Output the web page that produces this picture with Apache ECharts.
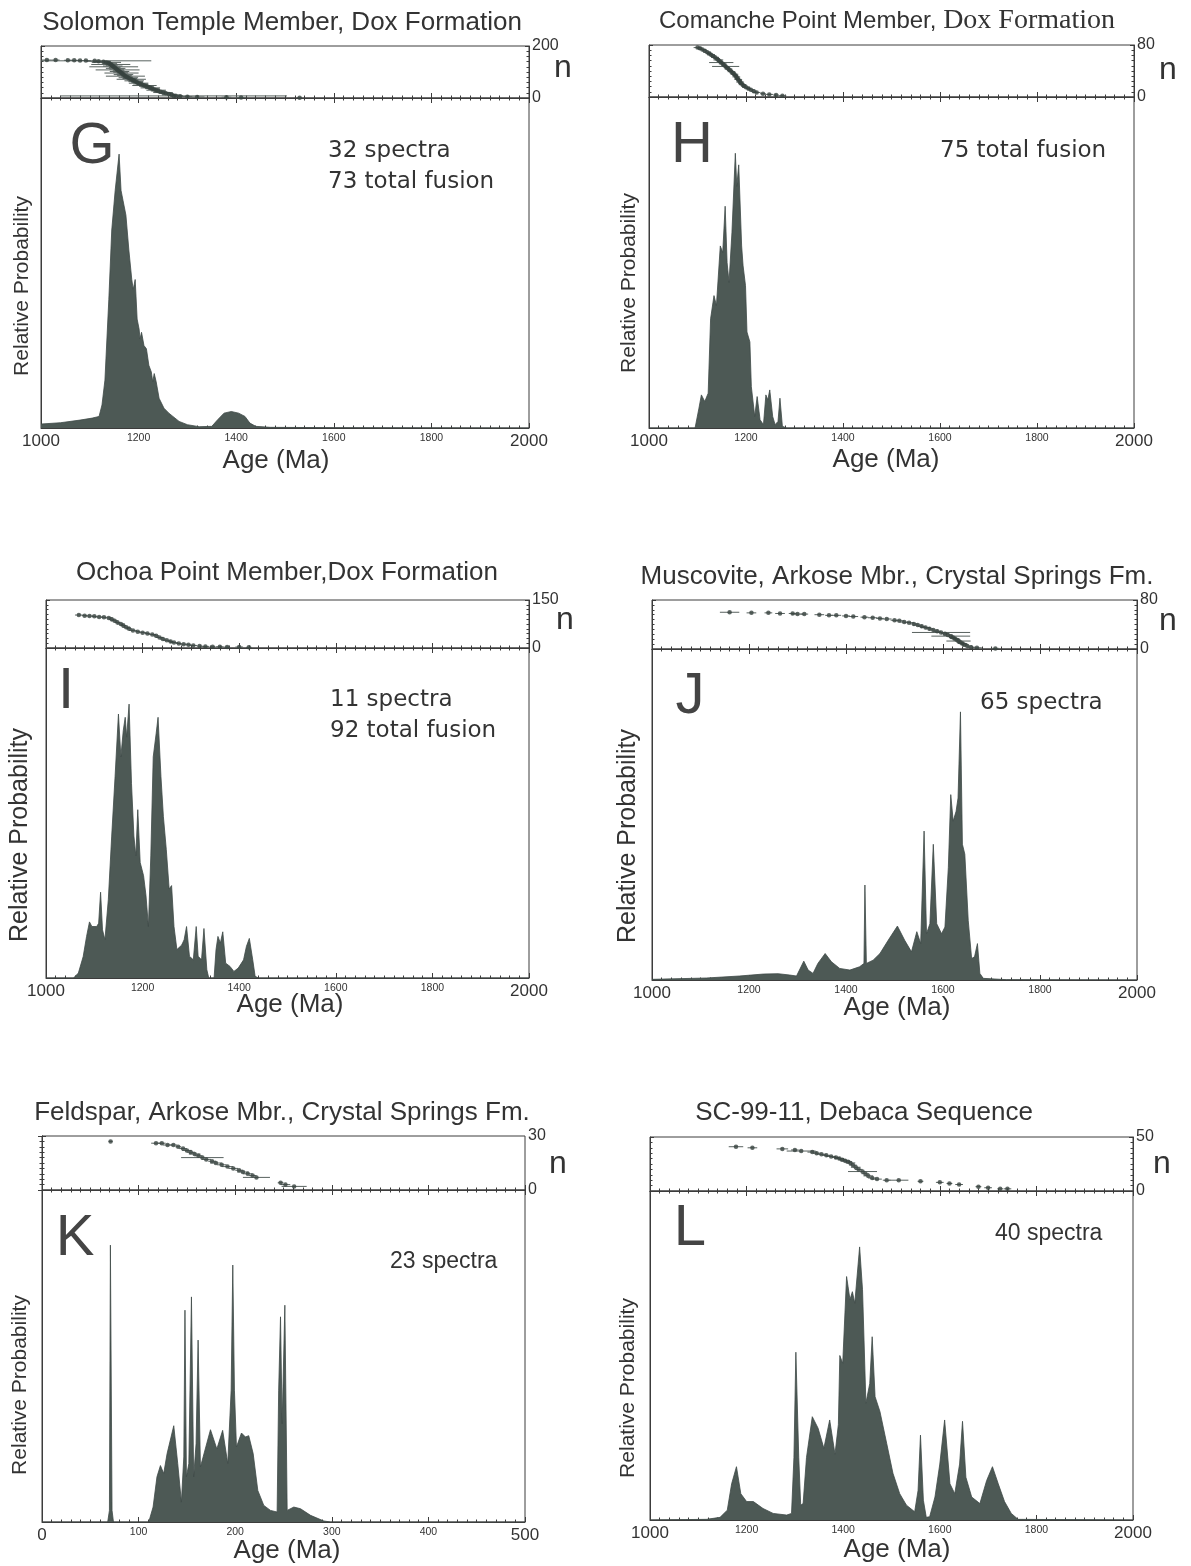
<!DOCTYPE html>
<html><head><meta charset="utf-8">
<script src="https://cdn.jsdelivr.net/npm/echarts/dist/echarts.min.js"></script>
<style>html,body{margin:0;padding:0;background:#fff}#c{width:1191px;height:1566px}</style>
</head><body><div id="c"></div><script>
// ---------------- DATA ----------------
const panelTitles = [
  'Solomon Temple Member, Dox Formation',
  'Comanche Point Member, |Dox Formation',
  'Ochoa Point Member,Dox Formation',
  'Muscovite, Arkose Mbr., Crystal Springs Fm.',
  'Feldspar, Arkose Mbr., Crystal Springs Fm.',
  'SC-99-11, Debaca Sequence'
];
const panelLetters = ['G', 'H', 'I', 'J', 'K', 'L'];
const panelNotes = [
  ['32 spectra', '73 total fusion'],
  ['75 total fusion'],
  ['11 spectra', '92 total fusion'],
  ['65 spectra'],
  ['23 spectra'],
  ['40 spectra']
];
const ageMin = [1000, 1000, 1000, 1000, 0, 1000];
const ageMax = [2000, 2000, 2000, 2000, 500, 2000];
const ageLabelStep = [200, 200, 200, 200, 100, 200];
const nMax = [200, 80, 150, 80, 30, 50];

// relative probability curves: [age (Ma), relative probability (% of panel height)]
const probG = [[1000,1.2],[1040,1.6],[1080,2.4],[1105,3],[1119,3.5],[1125,7],[1131,14.5],[1139,39],[1145,60],[1152,72],[1160,83],[1164,72],[1168,69],[1174,64.5],[1180,54],[1186,45],[1189,42],[1193,45],[1197,33],[1201,30],[1203,27],[1206,29],[1211,25],[1216,24],[1221,19],[1226,17],[1229,14],[1232,16.5],[1236,14],[1242,9],[1252,6],[1262,4.5],[1283,2],[1300,1],[1324,0.4],[1350,0.5],[1362,2.5],[1375,4.5],[1390,5],[1405,4.5],[1418,3.5],[1428,1.5],[1440,0.5],[1470,0.2],[1600,0.1],[2000,0]];
const probH = [[1000,0],[1095,0],[1098,0.5],[1103,6],[1108,10],[1115,8],[1122,10.5],[1127,33],[1134,40],[1139,37],[1147,55],[1152,53],[1157,67],[1161,50],[1165,44],[1171,59],[1178,83],[1181,73],[1185,79.5],[1191,55],[1194,49],[1199,43],[1202,29],[1208,26],[1211,12.5],[1218,3.5],[1223,9.5],[1229,2.5],[1236,1],[1241,10],[1245,8.5],[1249,11.5],[1255,3.5],[1260,1],[1266,2],[1270,9],[1275,0.5],[1284,0],[2000,0]];
const probI = [[1000,0],[1057,0],[1067,1.5],[1077,6.5],[1084,12.6],[1090,17],[1095,15.6],[1105,15.6],[1109,16.6],[1113,26],[1117,14.6],[1122,11.6],[1129,23.7],[1136,43],[1143,61],[1150,80],[1155,67],[1160,75],[1164,79],[1167,73],[1172,83],[1177,59],[1182,43],[1186,37],[1190,51],[1195,35],[1202,31],[1207,25],[1212,15.6],[1217,37],[1222,67],[1228,74],[1232,79],[1238,61],[1243,49],[1249,39],[1255,27],[1260,28],[1265,15.6],[1271,8.6],[1281,10],[1286,11.6],[1291,15.6],[1297,6.6],[1305,5.5],[1311,15.6],[1315,6.6],[1322,5.5],[1327,15],[1333,2.5],[1337,0],[1348,0],[1352,8.6],[1356,12.6],[1361,10.6],[1366,14],[1372,4.5],[1381,3.5],[1389,2],[1398,3],[1409,5.5],[1415,9.6],[1421,12],[1428,5.5],[1433,0.5],[1440,0],[2000,0]];
const probJ = [[1000,0.2],[1112,0.6],[1180,1.2],[1230,1.8],[1260,1.9],[1284,1.5],[1298,1.2],[1304,3],[1313,5.7],[1322,3],[1332,2],[1342,5],[1357,8],[1370,5.5],[1387,3.5],[1408,3],[1428,4],[1437,5],[1439,28.7],[1442,5],[1456,6],[1470,8],[1487,12],[1506,16.3],[1521,12],[1535,8.5],[1546,14.6],[1554,11],[1561,45],[1566,14],[1573,17],[1580,41],[1587,17],[1597,14],[1604,16],[1611,34],[1616,56],[1621,48],[1627,51],[1631,55],[1636,81],[1640,41],[1645,38],[1652,18],[1659,6.5],[1665,7],[1671,11],[1676,2],[1683,0.5],[1731,0.1],[2000,0]];
const probK = [[0,0],[68,0],[69.8,3.5],[70.8,83.4],[72.5,3.5],[74,0],[110.5,0],[115,4.5],[119,13.6],[122.6,17],[126,14.6],[129.5,20.6],[136.4,29],[140.5,17.6],[144.3,6],[146.8,19.6],[148,63.8],[149.5,13.6],[152,17.6],[154.7,67.8],[157,13.6],[159.5,23.6],[161.6,54.8],[164,16.6],[166.8,19.6],[174.4,27.8],[181,22],[187,27.6],[192.3,17.6],[195.8,39.7],[197.5,77.4],[199.2,39.7],[201.3,22.6],[206.5,26.8],[210.6,25.6],[214,26],[218.6,20.6],[223.4,9.5],[229.6,5],[236.5,3.5],[243.4,3],[245,39.7],[246.9,61.8],[248.6,29.6],[251.4,65.3],[253.8,3.5],[260.7,4.5],[267.6,4],[278,2],[291.8,0.3],[298.7,0],[500,0]];
const probL = [[1000,0],[1117,0.2],[1145,0.8],[1160,3],[1169,11],[1179,16.2],[1188,8],[1200,5.6],[1214,5.6],[1234,3.5],[1255,2],[1283,1.5],[1293,2],[1298,19],[1302,51],[1308,19],[1312,4.5],[1317,5],[1324,19],[1336,31.4],[1348,27.9],[1360,21.8],[1372,30.4],[1383,20],[1390,29],[1393,50],[1399,47.6],[1407,74],[1414,67],[1419,69.4],[1424,65.9],[1434,83],[1440,70],[1447,35.5],[1455,41.5],[1460,55.7],[1466,37.5],[1476,33],[1490,23.3],[1503,14.2],[1517,8],[1531,4.5],[1548,2.5],[1555,9],[1560,25.8],[1566,6],[1572,0.8],[1579,1],[1590,7],[1600,17],[1610,30.4],[1621,11],[1631,8],[1641,17],[1647,30],[1654,13],[1666,7],[1683,5],[1697,12],[1709,16.2],[1721,11],[1734,5.6],[1748,2],[1762,0.2],[2000,0]];

// cumulative age plots: [age (Ma), n, half-width of error bar (Ma)]
const stripG = [[1012,146,10],[1030,146,8],[1055,145,8],[1068,145,10],[1080,144,8],[1092,144,10],[1110,143,116],[1118,141,25],[1128,139,15],[1134,137,30],[1138,135,10],[1141,132,15],[1143,129,40],[1145,126,12],[1147,123,20],[1149,120,50],[1151,117,12],[1153,114,20],[1155,111,15],[1157,108,45],[1159,105,12],[1161,102,20],[1163,99,15],[1165,96,35],[1167,93,12],[1169,90,20],[1171,87,15],[1173,84,40],[1176,81,12],[1179,78,20],[1182,75,15],[1185,72,30],[1188,69,12],[1191,66,20],[1194,63,15],[1197,60,12],[1200,57,20],[1204,54,15],[1208,51,12],[1212,48,25],[1216,45,15],[1220,42,12],[1224,39,20],[1228,36,15],[1232,33,12],[1236,30,20],[1240,27,15],[1245,24,12],[1250,21,20],[1256,18,15],[1262,15,12],[1268,12,20],[1276,9,15],[1272,8,232],[1285,6,12],[1300,5,10],[1320,4,15],[1380,3,10],[1410,2,10],[1530,1,5]];
const stripH = [[1100,76,8],[1105,75,6],[1110,73,8],[1115,71,6],[1120,69,8],[1124,67,6],[1128,65,8],[1132,63,6],[1136,61,8],[1140,59,6],[1143,57,10],[1146,55,6],[1149,53,25],[1152,51,8],[1155,49,6],[1158,47,28],[1161,45,6],[1164,43,8],[1167,41,6],[1170,39,8],[1173,37,6],[1176,35,8],[1178,33,6],[1180,31,8],[1182,29,6],[1184,27,8],[1186,25,6],[1188,23,8],[1190,21,6],[1193,19,8],[1196,17,6],[1200,15,8],[1205,13,6],[1210,11,8],[1216,9,6],[1222,7,8],[1235,5,6],[1248,4,8],[1262,3,6],[1275,2,8]];
const stripI = [[1068,103,8],[1080,101,6],[1090,100,8],[1100,99,6],[1110,97,8],[1120,96,6],[1130,94,8],[1136,90,6],[1142,85,8],[1148,80,6],[1155,75,8],[1160,70,6],[1166,65,8],[1172,60,6],[1180,55,8],[1190,51,6],[1200,48,8],[1210,45,6],[1220,42,8],[1228,38,6],[1235,33,8],[1242,28,6],[1250,24,8],[1258,20,6],[1265,17,8],[1275,14,6],[1285,12,8],[1295,10,6],[1305,8,8],[1318,6,6],[1330,5,8],[1345,4,6],[1360,4,8],[1375,3,6],[1400,3,8],[1420,2,6]];
const stripJ = [[1160,60,20],[1205,59,10],[1240,59,8],[1264,58,10],[1290,58,8],[1300,57,12],[1314,57,8],[1345,56,10],[1365,55,8],[1380,55,10],[1400,54,8],[1415,53,10],[1438,52,8],[1455,51,10],[1470,50,8],[1484,49,10],[1500,47,8],[1510,46,10],[1520,44,8],[1530,43,10],[1540,41,8],[1548,39,10],[1556,37,8],[1564,35,10],[1572,33,8],[1580,31,10],[1588,29,8],[1596,27,60],[1604,25,8],[1610,23,10],[1616,21,40],[1620,19,8],[1624,17,10],[1628,15,8],[1632,13,25],[1636,11,8],[1640,9,10],[1644,7,8],[1650,5,10],[1658,3,8],[1670,2,10],[1708,1,8]];
const stripK = [[71,27,2],[118,26,5],[124,26,4],[130,25,5],[136,25,4],[141,24,3],[146,23,4],[150,22,5],[154,21,4],[158,20,6],[162,19,4],[166,18,22],[170,17,5],[176,16,4],[180,15,6],[186,14,5],[192,13,6],[198,12,5],[204,11,4],[208,10,6],[213,9,5],[218,8,4],[222,7,14],[247,4,3],[252,3,5],[261,2,13]];
const stripL = [[1178,41,15],[1212,40,10],[1274,39,12],[1300,38,8],[1313,37,30],[1336,36,10],[1345,35,8],[1355,34,10],[1365,33,8],[1375,32,10],[1385,31,8],[1392,30,10],[1398,29,8],[1404,28,10],[1410,27,8],[1415,26,10],[1420,24,8],[1426,22,10],[1432,20,8],[1440,18,30],[1446,16,8],[1452,14,10],[1460,12,8],[1470,11,10],[1490,10,8],[1515,10,20],[1560,9,6],[1600,8,8],[1620,7,6],[1640,6,8],[1680,4,6],[1700,3,8],[1725,2,6],[1740,2,8]];

const probAll = [probG, probH, probI, probJ, probK, probL];
const stripAll = [stripG, stripH, stripI, stripJ, stripK, stripL];

// ---------------- LAYOUT (pixels) ----------------
// [left, width, stripTop, stripHeight, mainHeight]
const frame = [
  [41, 488, 46, 52, 330],
  [649, 485, 45, 52, 331],
  [46, 483, 600, 48, 330],
  [652, 485, 600, 49, 331],
  [42, 483, 1136, 54, 332],
  [650, 483, 1137, 54, 329]
];
// text anchor points
const titlePos = [[282,23],[887,21],[287,573],[897,577],[282,1113],[864,1113]];
const letterPos = [[92,147],[692,146],[66,692],[690,697],[75,1239],[690,1229]];
const notePos = [[328,151],[940,151],[330,700],[980,703],[390,1262],[995,1234]];
const nPos = [[563,68],[1168,70],[565,620],[1168,621],[558,1164],[1162,1164]];
const rpPos = [[22,286,21],[629,283,21],[20,835,25],[628,836,25],[20,1385,21],[628,1388,21]];
const agePos = [[276,461],[886,460],[290,1005],[897,1008],[287,1551],[897,1550]];

const AXC = '#3c3c3c';
const FILL = '#4d5955';
const TXT = '#333';
const SANS = '"Liberation Sans", Arial, Helvetica, sans-serif';
const GILL = '"DejaVu Sans", sans-serif';

const grids = [], xAxes = [], yAxes = [], series = [], graphics = [];

function errBar(params, api) {
  const a = api.value(0), n = api.value(1), e = api.value(2);
  const p1 = api.coord([a - e, n]);
  const p2 = api.coord([a + e, n]);
  return { type: 'line', shape: { x1: p1[0], y1: p1[1], x2: p2[0], y2: p2[1] },
           style: { stroke: '#58625f', lineWidth: 1 } };
}

for (let i = 0; i < 6; i++) {
  const [L, W, ST, SH, MH] = frame[i];
  const mn = ageMin[i], mx = ageMax[i], step = ageLabelStep[i];
  grids.push({ left: L, width: W, top: ST + SH, height: MH, show: true, borderColor: AXC, borderWidth: 1, outerBoundsMode: 'none', containLabel: false });
  grids.push({ left: L, width: W, top: ST, height: SH, show: true, borderColor: AXC, borderWidth: 1, outerBoundsMode: 'none', containLabel: false });

  const tickBase = {
    type: 'value', min: mn, max: mx, interval: step,
    splitLine: { show: false }, minorSplitLine: { show: false },
    axisLine: { show: true, lineStyle: { color: AXC, width: 1 } },
    axisTick: { show: true, inside: true, length: 5, lineStyle: { color: AXC } },
    minorTick: { show: true, splitNumber: 10, length: 2.5, lineStyle: { color: AXC } }
  };
  xAxes.push(Object.assign({}, tickBase, {
    gridIndex: 2 * i, position: 'bottom',
    axisLabel: {
      show: true, margin: 5, color: TXT, fontFamily: SANS, showMinLabel: true, showMaxLabel: true,
      hideOverlap: false,
      formatter: v => (v === mn || v === mx) ? '{b|' + v + '}' : '{s|' + v + '}',
      rich: { b: { fontSize: 17, fontFamily: SANS, color: TXT }, s: { fontSize: 10.5, fontFamily: SANS, color: TXT } }
    }
  }));
  xAxes.push(Object.assign({}, tickBase, { gridIndex: 2 * i + 1, position: 'bottom', axisLabel: { show: false } }));
  xAxes.push(Object.assign({}, tickBase, { gridIndex: 2 * i + 1, position: 'top', axisLabel: { show: false } }));

  yAxes.push({ type: 'value', gridIndex: 2 * i, min: 0, max: 100, position: 'left',
    axisLine: { show: true, lineStyle: { color: AXC } }, axisTick: { show: false },
    axisLabel: { show: false }, splitLine: { show: false } });
  const nBase = {
    type: 'value', gridIndex: 2 * i + 1, min: 0, max: nMax[i], interval: nMax[i],
    splitLine: { show: false },
    axisLine: { show: true, lineStyle: { color: AXC } },
    axisTick: { show: true, inside: true, length: 4, lineStyle: { color: AXC } },
    minorTick: { show: true, splitNumber: 10, length: 2.5, lineStyle: { color: AXC } }
  };
  yAxes.push(Object.assign({}, nBase, { position: 'right',
    axisLabel: { show: true, margin: 3, fontSize: 16, color: TXT, fontFamily: SANS, showMinLabel: true, showMaxLabel: true } }));
  yAxes.push(Object.assign({}, nBase, { position: 'left', axisLabel: { show: false } }));

  series.push({
    type: 'line', xAxisIndex: 3 * i, yAxisIndex: 3 * i, data: probAll[i],
    showSymbol: false, symbol: 'none', silent: true,
    lineStyle: { width: 0.8, color: '#3f4a47' },
    areaStyle: { color: FILL, opacity: 1 }
  });
  series.push({
    type: 'custom', xAxisIndex: 3 * i + 1, yAxisIndex: 3 * i + 1, data: stripAll[i],
    renderItem: errBar, encode: { x: 0, y: 1 }, clip: true, silent: true
  });
  series.push({
    type: 'scatter', xAxisIndex: 3 * i + 1, yAxisIndex: 3 * i + 1,
    data: stripAll[i].map(d => [d[0], d[1]]), symbolSize: 4.5, silent: true,
    itemStyle: { color: '#37423f' }
  });

  const t = panelTitles[i];
  if (t.indexOf('|') >= 0) {
    const parts = t.split('|');
    graphics.push({ type: 'text', x: titlePos[i][0], y: titlePos[i][1],
      style: { text: '{a|' + parts[0] + '}{b|' + parts[1] + '}', fill: TXT,
        align: 'center', verticalAlign: 'middle', textAlign: 'center', textVerticalAlign: 'middle',
        rich: { a: { fontFamily: SANS, fontSize: 24, fill: TXT, color: TXT },
                b: { fontFamily: '"Liberation Serif", "Times New Roman", serif', fontSize: 28, fill: TXT, color: TXT } } } });
  } else {
    graphics.push({ type: 'text', x: titlePos[i][0], y: titlePos[i][1],
      style: { text: t, fontFamily: SANS, fontSize: 26, fill: TXT,
        align: 'center', verticalAlign: 'middle', textAlign: 'center', textVerticalAlign: 'middle' } });
  }
  graphics.push({ type: 'text', x: letterPos[i][0], y: letterPos[i][1],
    style: { text: panelLetters[i], fontFamily: SANS, fontSize: 58, fill: '#444',
      align: 'center', verticalAlign: 'middle', textAlign: 'center', textVerticalAlign: 'middle' } });
  const noteFont = (i >= 4) ? SANS : GILL;
  panelNotes[i].forEach((s, k) => {
    graphics.push({ type: 'text', x: notePos[i][0], y: notePos[i][1] + k * 31,
      style: { text: s, fontFamily: noteFont, fontSize: 23, fill: TXT,
        align: 'left', verticalAlign: 'middle', textAlign: 'left', textVerticalAlign: 'middle' } });
  });
  graphics.push({ type: 'text', x: nPos[i][0], y: nPos[i][1],
    style: { text: 'n', fontFamily: SANS, fontSize: 32, fill: TXT,
      align: 'center', verticalAlign: 'middle', textAlign: 'center', textVerticalAlign: 'middle' } });
  graphics.push({ type: 'text', x: rpPos[i][0], y: rpPos[i][1], rotation: Math.PI / 2,
    style: { text: 'Relative Probability', fontFamily: SANS, fontSize: rpPos[i][2], fill: TXT,
      align: 'center', verticalAlign: 'middle', textAlign: 'center', textVerticalAlign: 'middle' } });
  graphics.push({ type: 'text', x: agePos[i][0], y: agePos[i][1],
    style: { text: 'Age (Ma)', fontFamily: SANS, fontSize: 26, fill: TXT,
      align: 'center', verticalAlign: 'middle', textAlign: 'center', textVerticalAlign: 'middle' } });
}

const chart = echarts.init(document.getElementById('c'), null, { renderer: 'canvas', width: 1191, height: 1566 });
chart.setOption({
  animation: false,
  backgroundColor: '#ffffff',
  grid: grids, xAxis: xAxes, yAxis: yAxes, series: series,
  graphic: graphics
});
</script></body></html>
